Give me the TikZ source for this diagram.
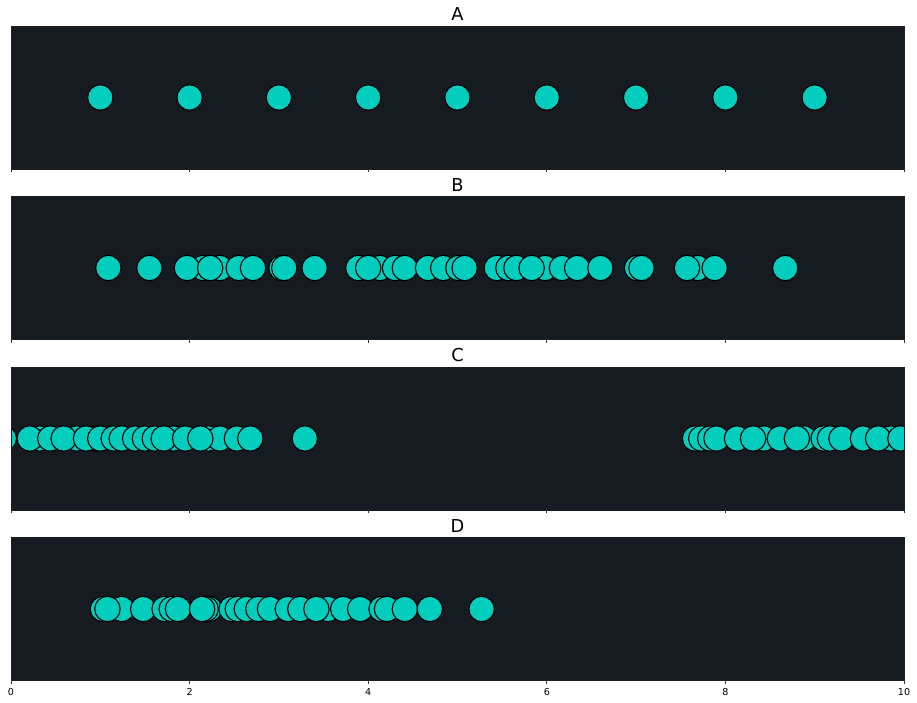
\documentclass[tikz,border=0pt]{standalone}
\usepackage{fontspec}
\setmainfont{DejaVu Sans}
\definecolor{panelbg}{RGB}{22,27,34}
\definecolor{dotfill}{RGB}{3,206,189}
\definecolor{spinecol}{RGB}{30,30,30}
\tikzset{
  dot/.style={fill=dotfill, draw=black, line width=1.1pt},
  spine/.style={draw=spinecol, line width=0.8pt},
  tickmark/.style={draw=black!80, line width=0.8pt},
  paneltitle/.style={anchor=base, inner sep=0pt, font=\fontsize{17.8}{20}\selectfont},
  ticklabel/.style={anchor=base, inner sep=0pt, font=\fontsize{9.6}{11}\selectfont},
}
\begin{document}
\begin{tikzpicture}[x=89.3pt, y=1pt]
\useasboundingbox (-11pt,0pt) rectangle (906pt,703pt);

\begin{scope}[yshift=534pt]
  \fill[panelbg] (0,0) rectangle (10,143);
  \begin{scope}
    \clip (0,0) rectangle (10,143);
    \foreach \p in {1,...,9} \draw[dot] (\p,71.5) circle[radius=12.7pt];
  \end{scope}
  \draw[spine] (0,0) rectangle (10,143);
  \foreach \t in {0,2,...,10} \draw[tickmark] (\t,0) -- (\t,-3.5);
  \node[paneltitle] (titleA) at (5,148) {A};
\end{scope}

\begin{scope}[yshift=363.5pt]
  \fill[panelbg] (0,0) rectangle (10,143);
  \begin{scope}
    \clip (0,0) rectangle (10,143);
    \foreach \p in {1.09,1.55,2.15,1.97,2.34,2.23,2.55,2.71,3.03,3.06,3.40,3.89,4.13,4.00,4.30,4.41,4.67,4.84,5.01,5.08,5.44,5.57,5.66,5.98,5.83,6.17,6.34,6.60,7.01,7.06,7.69,7.57,7.88,8.67}
      \draw[dot] (\p,71.5) circle[radius=12.7pt];
  \end{scope}
  \draw[spine] (0,0) rectangle (10,143);
  \foreach \t in {0,2,...,10} \draw[tickmark] (\t,0) -- (\t,-3.5);
  \node[paneltitle] (titleB) at (5,148) {B};
\end{scope}

\begin{scope}[yshift=193pt]
  \fill[panelbg] (0,0) rectangle (10,143);
  \begin{scope}
    \clip (0,0) rectangle (10,143);
    \foreach \p in {-0.08,0.32,0.21,0.44,0.74,0.59,0.96,0.84,1.00,1.15,1.24,1.39,1.50,1.61,1.82,1.71,1.95,2.21,2.34,2.12,2.53,2.68,3.29,7.66,7.73,7.83,7.90,8.13,8.43,8.31,8.61,8.88,8.80,9.10,9.17,9.30,9.54,9.85,9.71,9.96}
      \draw[dot] (\p,71.5) circle[radius=12.7pt];
  \end{scope}
  \draw[spine] (0,0) rectangle (10,143);
  \foreach \t in {0,2,...,10} \draw[tickmark] (\t,0) -- (\t,-3.5);
  \node[paneltitle] (titleC) at (5,148) {C};
\end{scope}

\begin{scope}[yshift=22.5pt]
  \fill[panelbg] (0,0) rectangle (10,143);
  \begin{scope}
    \clip (0,0) rectangle (10,143);
    \foreach \p in {1.03,1.24,1.08,1.48,1.72,1.80,1.87,2.22,2.18,2.14,2.47,2.54,2.64,2.77,2.90,3.10,3.24,3.55,3.42,3.72,3.91,4.15,4.21,4.41,4.69,5.27}
      \draw[dot] (\p,71.5) circle[radius=12.7pt];
  \end{scope}
  \draw[spine] (0,0) rectangle (10,143);
  \foreach \t in {0,2,...,10} {
    \draw[tickmark] (\t,0) -- (\t,-3.5);
    \node[ticklabel] (tick\t) at (\t,-15) {\t};
  }
  \node[paneltitle] (titleD) at (5,148) {D};
\end{scope}
\end{tikzpicture}
\end{document}
